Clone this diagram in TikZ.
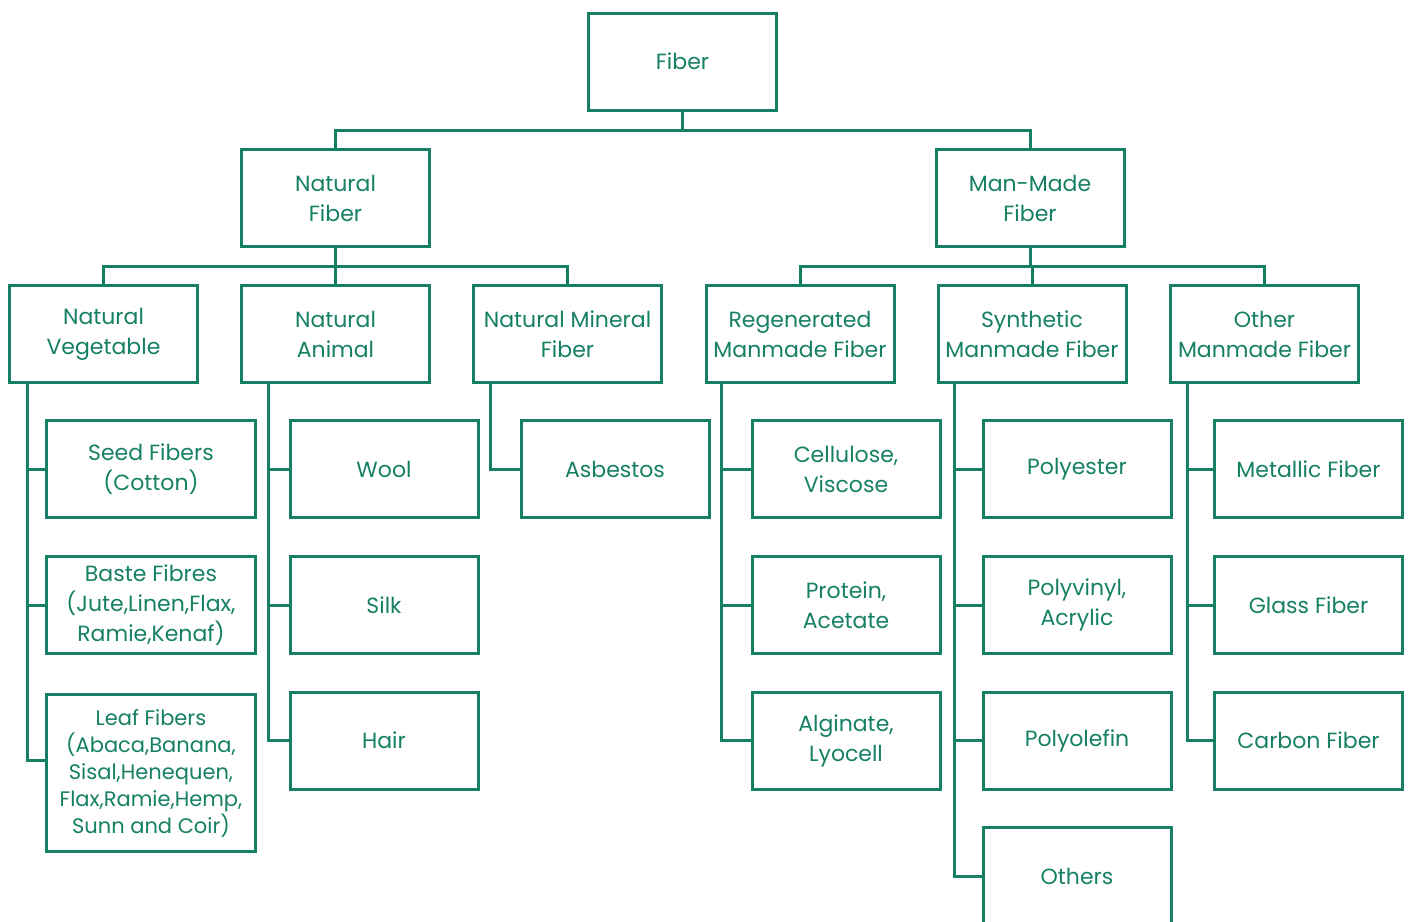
\documentclass[tikz,border=0pt]{standalone}
\usepackage{fontspec}
\setmainfont{Poppins}
\usepackage{tikz}
\definecolor{fibergreen}{RGB}{22,128,100}
\tikzset{
	fbox/.style={draw=fibergreen, line width=3pt, text=fibergreen, align=center,
		minimum width=188pt, minimum height=97pt, inner sep=2pt,
		font=\fontsize{22}{30}\selectfont},
	link/.style={draw=fibergreen, line width=3pt}
}

\begin{document}
\begin{tikzpicture}[x=1pt, y=-1pt]

	% page frame
	\useasboundingbox (0,0) rectangle (1410,921);
	\clip (0,0) rectangle (1410,921);

	% top levels
	\node[fbox] (fiber) at (682.5,61.5) {Fiber};
	\node[fbox] (natural) at (335.5,198) {Natural\\Fiber};
	\node[fbox] (manmade) at (1030,198) {Man-Made\\Fiber};

	\node[fbox] (veg) at (103.5,334) {Natural\\Vegetable};
	\node[fbox] (animal) at (335.5,334) {Natural\\Animal};
	\node[fbox] (mineral) at (567.5,334) {Natural Mineral\\Fiber};
	\node[fbox] (regen) at (800,334) {Regenerated\\Manmade Fiber};
	\node[fbox] (synth) at (1032,334) {Synthetic\\Manmade Fiber};
	\node[fbox] (other) at (1264.5,334) {Other\\Manmade Fiber};

	% natural vegetable
	\node[fbox, minimum width=209pt] (seed) at (151,469) {Seed Fibers\\(Cotton)};
	\node[fbox, minimum width=209pt] (baste) at (151,605) {Baste Fibres\\(Jute,Linen,Flax,\\Ramie,Kenaf)};
	\node[fbox, minimum width=209pt, minimum height=157pt, font=\fontsize{21}{27}\selectfont] (leaf) at (151,773) {Leaf Fibers\\(Abaca,Banana,\\Sisal,Henequen,\\Flax,Ramie,Hemp,\\Sunn and Coir)};

	% natural animal
	\node[fbox] (wool) at (384,469) {Wool};
	\node[fbox] (silk) at (384,605) {Silk};
	\node[fbox] (hair) at (384,740.5) {Hair};

	% natural mineral
	\node[fbox] (asbestos) at (615,469) {Asbestos};

	% regenerated
	\node[fbox] (cellulose) at (846,469) {Cellulose,\\Viscose};
	\node[fbox] (protein) at (846,605) {Protein,\\Acetate};
	\node[fbox] (alginate) at (846,740.5) {Alginate,\\Lyocell};

	% synthetic
	\node[fbox] (polyester) at (1077,469) {Polyester};
	\node[fbox] (polyvinyl) at (1077,605) {Polyvinyl,\\Acrylic};
	\node[fbox] (polyolefin) at (1077,740.5) {Polyolefin};
	\node[fbox] (others) at (1077,876) {Others};

	% other manmade
	\node[fbox] (metallic) at (1308.5,469) {Metallic Fiber};
	\node[fbox] (glass) at (1308.5,605) {Glass Fiber};
	\node[fbox] (carbon) at (1308.5,740.5) {Carbon Fiber};

	% tree links
	\draw[link] (fiber.south) -- ++(0,18);
	\draw[link] (natural.north) -- ++(0,-18) -| (manmade.north);
	\draw[link] (natural.south) -- ++(0,18);
	\draw[link] (veg.north) -- ++(0,-18) -| (mineral.north);
	\draw[link] (animal.north) -- ++(0,-18);
	\draw[link] (manmade.south) -- ++(0,18);
	\draw[link] (regen.north) -- ++(0,-18) -| (other.north);
	\draw[link] (synth.north) -- ++(0,-18);

	% side branches
	\draw[link] ([xshift=19pt]veg.south west) |- ([yshift=13pt]leaf.west);
	\draw[link] (seed.west) -- ++(-18,0);
	\draw[link] (baste.west) -- ++(-18,0);

	\draw[link] ([xshift=28pt]animal.south west) |- (hair.west);
	\draw[link] (wool.west) -- ++(-21,0);
	\draw[link] (silk.west) -- ++(-21,0);

	\draw[link] ([xshift=18pt]mineral.south west) |- (asbestos.west);

	\draw[link] ([xshift=17pt]regen.south west) |- (alginate.west);
	\draw[link] (cellulose.west) -- ++(-29,0);
	\draw[link] (protein.west) -- ++(-29,0);

	\draw[link] ([xshift=18pt]synth.south west) |- (others.west);
	\draw[link] (polyester.west) -- ++(-27,0);
	\draw[link] (polyvinyl.west) -- ++(-27,0);
	\draw[link] (polyolefin.west) -- ++(-27,0);

	\draw[link] ([xshift=18pt]other.south west) |- (carbon.west);
	\draw[link] (metallic.west) -- ++(-26,0);
	\draw[link] (glass.west) -- ++(-26,0);

\end{tikzpicture}
\end{document}
